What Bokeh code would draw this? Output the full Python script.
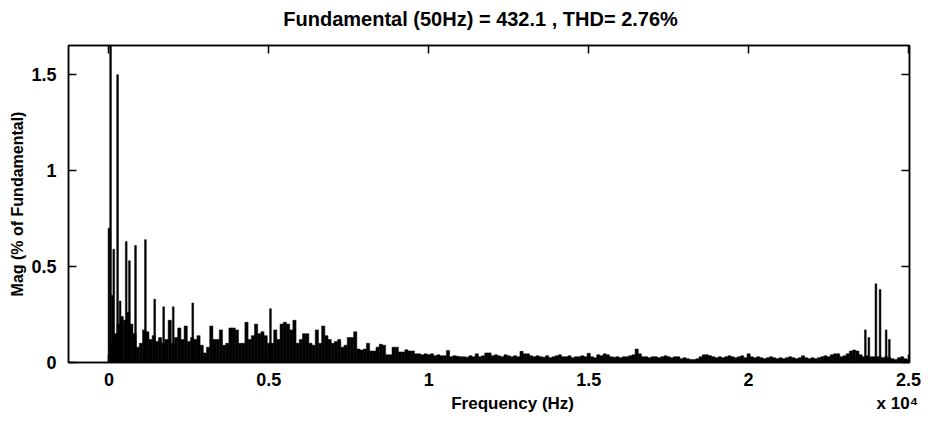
from bokeh.plotting import figure
from bokeh.models import Range1d, LinearAxis, FixedTicker
from bokeh.embed import file_html
from bokeh.resources import INLINE

title_text = "Fundamental (50Hz) = 432.1 , THD= 2.76%"
x_label = "Frequency (Hz)"
y_label = "Mag (% of Fundamental)"
x_ticks = [0, 5000, 10000, 15000, 20000, 25000]
x_tick_labels = ["0", "0.5", "1", "1.5", "2", "2.5"]
y_ticks = [0, 0.5, 1, 1.5]
y_tick_labels = ["0", "0.5", "1", "1.5"]
x_scale_note = "x 10\u2074"

# broadband spectrum on a 100 Hz grid (100 Hz ... 25000 Hz)
noise_freq = [100 * k for k in range(1, 251)]
noise_mag = [
    0.10, 0.15, 0.20, 0.24, 0.22, 0.26, 0.20, 0.15, 0.08, 0.10,
    0.17, 0.16, 0.12, 0.14, 0.11, 0.13, 0.10, 0.12, 0.22, 0.10,
    0.13, 0.18, 0.12, 0.19, 0.11, 0.13, 0.12, 0.14, 0.09, 0.05,
    0.08, 0.19, 0.12, 0.12, 0.17, 0.09, 0.10, 0.18, 0.18, 0.17,
    0.10, 0.10, 0.21, 0.12, 0.14, 0.20, 0.15, 0.16, 0.14, 0.10,
    0.10, 0.17, 0.12, 0.20, 0.21, 0.20, 0.17, 0.22, 0.10, 0.12,
    0.15, 0.15, 0.10, 0.09, 0.17, 0.10, 0.19, 0.14, 0.12, 0.10,
    0.11, 0.12, 0.08, 0.09, 0.13, 0.13, 0.16, 0.07, 0.065, 0.07,
    0.10, 0.06, 0.06, 0.08, 0.095, 0.09, 0.04, 0.04, 0.08, 0.08,
    0.055, 0.055, 0.066, 0.06, 0.06, 0.045, 0.045, 0.04, 0.045, 0.04,
    0.045, 0.035, 0.04, 0.035, 0.035, 0.063, 0.03, 0.035, 0.033, 0.03,
    0.03, 0.028, 0.035, 0.03, 0.045, 0.03, 0.035, 0.05, 0.05, 0.035,
    0.04, 0.035, 0.03, 0.04, 0.035, 0.03, 0.035, 0.03, 0.058, 0.045,
    0.045, 0.035, 0.03, 0.035, 0.03, 0.028, 0.035, 0.025, 0.03, 0.035,
    0.04, 0.03, 0.03, 0.035, 0.025, 0.03, 0.03, 0.035, 0.03, 0.048,
    0.03, 0.025, 0.04, 0.035, 0.045, 0.04, 0.03, 0.028, 0.03, 0.025,
    0.03, 0.03, 0.035, 0.04, 0.07, 0.045, 0.03, 0.03, 0.025, 0.03,
    0.03, 0.025, 0.03, 0.035, 0.03, 0.025, 0.03, 0.03, 0.02, 0.025,
    0.02, 0.015, 0.015, 0.02, 0.03, 0.04, 0.04, 0.035, 0.03, 0.025,
    0.03, 0.025, 0.03, 0.035, 0.03, 0.025, 0.03, 0.035, 0.025, 0.045,
    0.03, 0.025, 0.03, 0.025, 0.02, 0.025, 0.03, 0.025, 0.02, 0.025,
    0.02, 0.025, 0.03, 0.025, 0.02, 0.025, 0.035, 0.025, 0.02, 0.025,
    0.02, 0.025, 0.03, 0.035, 0.03, 0.04, 0.045, 0.045, 0.03, 0.035,
    0.045, 0.06, 0.065, 0.06, 0.04, 0.03, 0.035, 0.03, 0.03, 0.03,
    0.03, 0.025, 0.03, 0.025, 0.02, 0.015, 0.025, 0.03, 0.02, 0.015,
]

# distinct harmonic spikes
spike_freq = [0, 50, 100, 150, 270, 350, 540, 640, 830, 1140, 1430, 1710,
              2010, 2620, 5050, 23650, 23760, 23980, 24110, 24300, 24400]
spike_mag = [0.70, 100.0, 0.35, 0.59, 1.50, 0.32, 0.63, 0.53, 0.61, 0.64, 0.33, 0.29,
             0.29, 0.31, 0.28, 0.17, 0.13, 0.41, 0.38, 0.17, 0.12]

# positions (in Hz) where the title and the two texts under the x tick labels are centred
title_pos = [11620]
bottom_text_pos = [12620, 24650]
bottom_texts = [x_label, x_scale_note]

FONT = "Liberation Sans Narrow, Arial Narrow, Liberation Sans, Arial, sans-serif"

p = figure(width=931, height=432, output_backend="svg", toolbar_location=None,
           x_range=Range1d(-1265, 25030), y_range=Range1d(0, 1.652),
           min_border_left=68, min_border_right=22, min_border_top=45, min_border_bottom=70)
p.background_fill_color = "white"
p.border_fill_color = "white"
p.outline_line_color = "black"
p.outline_line_width = 1.5
p.grid.visible = False
p.title.visible = False

p.vbar(x=noise_freq, top=noise_mag, width=100, bottom=0,
       fill_color="black", line_color="black", line_width=0.5)
p.vbar(x=spike_freq, top=spike_mag, width=55, bottom=0,
       fill_color="black", line_color="black", line_width=0.5)

def style_axis(ax, ticks, labels, show_labels=True):
    ax.ticker = FixedTicker(ticks=ticks)
    ax.major_tick_in = 8
    ax.major_tick_out = 0
    ax.minor_tick_in = 0
    ax.minor_tick_out = 0
    ax.major_tick_line_color = "black"
    ax.major_tick_line_width = 1.5
    ax.axis_line_color = "black"
    ax.axis_line_width = 1.5
    ax.major_label_text_font = FONT
    ax.major_label_text_font_style = "bold"
    ax.major_label_text_color = "black"
    if show_labels:
        ax.major_label_overrides = {t: l for t, l in zip(ticks, labels)}
        ax.major_label_text_font_size = "18px"
    else:
        ax.major_label_overrides = {t: "" for t in ticks}
        ax.major_label_text_font_size = "2px"
        ax.major_label_standoff = 0

def text_axis(ticks, texts, size, standoff):
    ax = LinearAxis(ticker=FixedTicker(ticks=ticks))
    ax.major_label_overrides = {t: s for t, s in zip(ticks, texts)}
    ax.axis_line_color = None
    ax.major_tick_line_color = None
    ax.minor_tick_line_color = None
    ax.major_tick_in = 0
    ax.major_tick_out = 0
    ax.major_label_standoff = standoff
    ax.major_label_text_font = FONT
    ax.major_label_text_font_size = size
    ax.major_label_text_font_style = "bold"
    ax.major_label_text_color = "black"
    return ax

xa = p.xaxis[0]
style_axis(xa, x_ticks, x_tick_labels)
xa.major_label_standoff = 10

ya = p.yaxis[0]
style_axis(ya, y_ticks, y_tick_labels)
ya.major_label_standoff = 12
ya.axis_label = y_label
ya.axis_label_text_font = FONT
ya.axis_label_text_font_size = "16px"
ya.axis_label_text_font_style = "bold"
ya.axis_label_text_color = "black"
ya.axis_label_standoff = 2

# second row below the tick labels: "Frequency (Hz)" and "x 10^4"
p.add_layout(text_axis(bottom_text_pos, bottom_texts, "17px", 5), "below")

top_ax = LinearAxis()
style_axis(top_ax, x_ticks, x_tick_labels, show_labels=False)
p.add_layout(top_ax, "above")
# title row
p.add_layout(text_axis(title_pos, [title_text], "20px", 16), "above")

right_ax = LinearAxis()
style_axis(right_ax, y_ticks, y_tick_labels, show_labels=False)
p.add_layout(right_ax, "right")

open("out.html", "w").write(file_html(p, INLINE))
